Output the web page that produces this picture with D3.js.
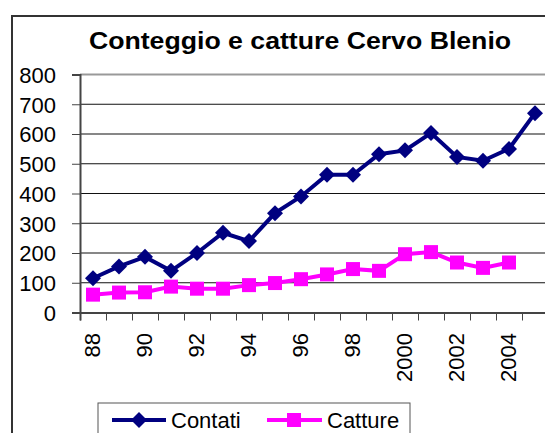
<!DOCTYPE html>
<html>
<head>
<meta charset="utf-8">
<script src="https://cdn.jsdelivr.net/npm/d3@7"></script>
<style>
  body { margin: 0; background: #fff; }
  svg { display: block; font-family: Arial, "Liberation Sans", sans-serif; }
</style>
</head>
<body>
<script>
// data
var years = ["88","89","90","91","92","93","94","95","96","97","98","99",
             "2000","2001","2002","2003","2004","2005"];
var contati = [115, 155, 187, 140, 200, 268, 240, 334, 390, 463, 463, 532,
               545, 603, 523, 510, 550, 670];
var catture = [60, 67, 68, 87, 80, 80, 92, 99, 112, 128, 146, 140,
               196, 203, 168, 150, 168, null];
var yTicks = [0, 100, 200, 300, 400, 500, 600, 700, 800];

var W = 545, H = 433;
var plotLeft = 80, plotTop = 74.5, plotBottom = 312.5, step = 26;

var svg = d3.select("body").append("svg")
    .attr("width", W)
    .attr("height", H);

// outer chart frame (right and bottom sides fall outside the picture)
svg.append("path")
    .attr("d", "M12," + H + "V16H" + (W + 5))
    .attr("fill", "none")
    .attr("stroke", "#333")
    .attr("stroke-width", 2);

// title is wider in the original, so stretch it a bit
svg.append("text")
    .attr("transform", "translate(300,49) scale(1.16,1)")
    .attr("text-anchor", "middle")
    .style("font-size", "23px")
    .style("font-weight", "bold")
    .text("Conteggio e catture Cervo Blenio");

var x = d3.scaleBand()
    .domain(years)
    .range([plotLeft, plotLeft + years.length * step])
    .padding(0);
var xc = function (d) { return x(d) + x.bandwidth() / 2; };

var y = d3.scaleLinear()
    .domain([0, 800])
    .range([plotBottom, plotTop]);

// gridlines
svg.append("g")
    .selectAll("line")
    .data(yTicks.filter(function (d) { return d > 0 && d < 800; }))
    .enter().append("line")
    .attr("x1", plotLeft).attr("x2", W + 5)
    .attr("y1", function (d) { return y(d); })
    .attr("y2", function (d) { return y(d); })
    .attr("stroke", "#111")
    .attr("stroke-width", 1.2);

// plot area top border
svg.append("line")
    .attr("x1", plotLeft).attr("x2", W + 5)
    .attr("y1", y(800)).attr("y2", y(800))
    .attr("stroke", "#999")
    .attr("stroke-width", 2);

// y axis
var yAxis = svg.append("g")
    .attr("transform", "translate(" + plotLeft + ",0)")
    .call(d3.axisLeft(y).tickValues(yTicks).tickSize(8).tickPadding(16));
yAxis.select(".domain").attr("stroke", "#444").attr("stroke-width", 2);
yAxis.selectAll(".tick line").attr("stroke", "#444");
yAxis.selectAll("text")
    .style("font-size", "22px")
    .attr("fill", "#000")
    .attr("dy", "0.36em");

// x axis: ticks on category boundaries
var xi = d3.scaleLinear().domain([0, years.length]).range([plotLeft, plotLeft + years.length * step]);
var xAxis = svg.append("g")
    .attr("transform", "translate(0," + plotBottom + ")")
    .call(d3.axisBottom(xi).tickValues(d3.range(years.length + 1)).tickSize(8).tickFormat(""));
xAxis.select(".domain").attr("stroke", "#444").attr("stroke-width", 2);
xAxis.selectAll(".tick line").attr("stroke", "#444");

svg.append("g")
    .selectAll("text")
    .data(years.filter(function (d, i) { return i % 2 === 0; }))
    .enter().append("text")
    .attr("transform", function (d) {
        return "translate(" + (xc(d) - 1) + ",333) rotate(-90)";
    })
    .attr("text-anchor", "end")
    .attr("dy", "0.36em")
    .style("font-size", "22px")
    .text(function (d) { return d; });

// series
var navy = "#000080", pink = "#ff00ff";

var line = d3.line()
    .defined(function (d) { return d.v != null; })
    .x(function (d) { return xc(d.k); })
    .y(function (d) { return y(d.v); });

var cont = years.map(function (k, i) { return {k: k, v: contati[i]}; });
var catt = years.map(function (k, i) { return {k: k, v: catture[i]}; });

svg.append("path")
    .datum(catt)
    .attr("d", line)
    .attr("fill", "none")
    .attr("stroke", pink)
    .attr("stroke-width", 4);

svg.append("g")
    .selectAll("rect")
    .data(catt.filter(function (d) { return d.v != null; }))
    .enter().append("rect")
    .attr("x", function (d) { return xc(d.k) - 7; })
    .attr("y", function (d) { return y(d.v) - 7; })
    .attr("width", 14).attr("height", 14)
    .attr("fill", pink);

svg.append("path")
    .datum(cont)
    .attr("d", line)
    .attr("fill", "none")
    .attr("stroke", navy)
    .attr("stroke-width", 4);

var diamond = "M0,-8L8,0L0,8L-8,0Z";
svg.append("g")
    .selectAll("path")
    .data(cont)
    .enter().append("path")
    .attr("transform", function (d) { return "translate(" + xc(d.k) + "," + y(d.v) + ")"; })
    .attr("d", diamond)
    .attr("fill", navy);

// legend
var lg = svg.append("g");
lg.append("rect")
    .attr("x", 98).attr("y", 403)
    .attr("width", 312).attr("height", 40)
    .attr("fill", "#fff")
    .attr("stroke", "#555")
    .attr("stroke-width", 1);

lg.append("line")
    .attr("x1", 112).attr("x2", 166).attr("y1", 420).attr("y2", 420)
    .attr("stroke", navy).attr("stroke-width", 4);
lg.append("path")
    .attr("transform", "translate(139,420)")
    .attr("d", diamond)
    .attr("fill", navy);
lg.append("text")
    .attr("x", 171).attr("y", 428)
    .style("font-size", "22px")
    .text("Contati");

lg.append("line")
    .attr("x1", 267).attr("x2", 322).attr("y1", 420).attr("y2", 420)
    .attr("stroke", pink).attr("stroke-width", 4);
lg.append("rect")
    .attr("x", 287).attr("y", 413).attr("width", 14).attr("height", 14)
    .attr("fill", pink);
lg.append("text")
    .attr("x", 327).attr("y", 428)
    .style("font-size", "22px")
    .text("Catture");
</script>
</body>
</html>
